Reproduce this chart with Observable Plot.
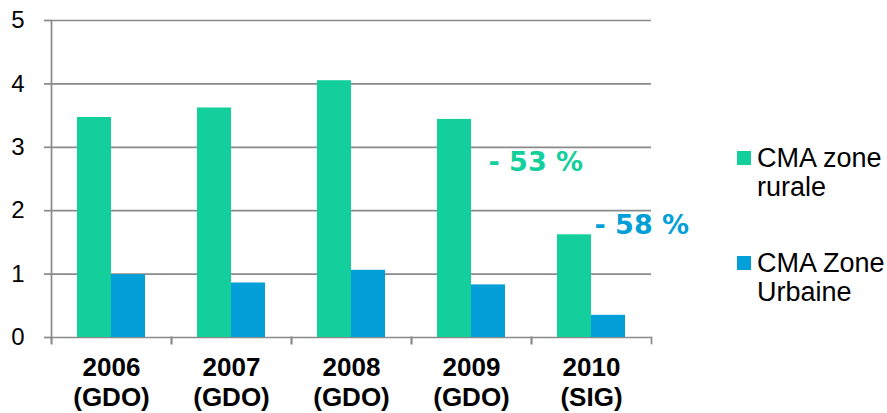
<!DOCTYPE html>
<html>
<head>
<meta charset="utf-8">
<script src="https://cdn.jsdelivr.net/npm/d3@7"></script>
<script src="https://cdn.jsdelivr.net/npm/@observablehq/plot@0.6"></script>
<style>
  html, body { margin: 0; padding: 0; background: #fff; }
  #wrap { position: relative; width: 887px; height: 413px; }
  .legend { position: absolute; left: 737px; font-family: "Liberation Sans", Arial, sans-serif; font-size: 27px; line-height: 29px; color: #000; }
  .legend .item { position: absolute; left: 0; white-space: nowrap; }
  .legend .sw { position: absolute; left: 0; top: 7px; width: 14px; height: 14px; }
  .legend .lbl { position: absolute; left: 20px; top: 0; }
</style>
</head>
<body>
<div id="wrap"></div>
<script>
const years = ["2006\n(GDO)", "2007\n(GDO)", "2008\n(GDO)", "2009\n(GDO)", "2010\n(SIG)"];
const series = ["CMA zone rurale", "CMA Zone Urbaine"];
const seriesLegend = [["CMA zone", "rurale"], ["CMA Zone", "Urbaine"]];
const rurale = [3.47, 3.62, 4.05, 3.44, 1.62];
const urbaine = [0.99, 0.86, 1.06, 0.83, 0.35];
const yTicks = [0, 1, 2, 3, 4, 5];
const annotRural = [{year: "2009\n(GDO)", series: "CMA Zone Urbaine", label: "- 53 %", y: 2.63}];
const annotUrban = [{year: "2010\n(SIG)", series: "CMA Zone Urbaine", label: "- 58 %", y: 1.64}];

const GREEN = "#12cf9b";
const BLUE = "#039fd8";
const GRAY = "#8a8a8a";

const data = years.flatMap((yr, i) => [
  {year: yr, series: series[0], value: rurale[i]},
  {year: yr, series: series[1], value: urbaine[i]}
]);

const annotStyle = {
  fx: "year", x: "series", y: "y", text: "label",
  textAnchor: "start", lineAnchor: "bottom",
  fontSize: 27, fontWeight: "bold", fontFamily: "'DejaVu Sans', sans-serif"
};

const chart = Plot.plot({
  width: 887,
  height: 413,
  marginLeft: 49,
  marginRight: 235,
  marginTop: 20,
  marginBottom: 76,
  style: {fontFamily: "'Liberation Sans', Arial, sans-serif", background: "white", color: "black"},
  fx: {domain: years, padding: 0, label: null, axis: null},
  x: {domain: series, paddingInner: 0, paddingOuter: 0.75, axis: null},
  y: {domain: [0, 5], axis: null},
  color: {domain: series, range: [GREEN, BLUE]},
  marks: [
    Plot.ruleY(yTicks, {stroke: GRAY, strokeWidth: 1.7}),
    Plot.frame({anchor: "left", facet: "super", stroke: GRAY, strokeWidth: 1.7, insetBottom: -6}),
    Plot.frame({anchor: "left", stroke: GRAY, strokeWidth: 1.7, insetTop: 317, insetBottom: -6}),
    Plot.frame({anchor: "right", stroke: GRAY, strokeWidth: 1.7, insetTop: 317, insetBottom: -6}),
    Plot.barY(data, {fx: "year", x: "series", y: "value", fill: "series"}),
    Plot.axisY(yTicks, {anchor: "left", tickSize: 7, tickPadding: 20, fontSize: 24, stroke: GRAY, strokeWidth: 1.7, fill: "black", label: null, tickFormat: d => String(d)}),
    Plot.axisFx({anchor: "bottom", tickSize: 0, tickPadding: 17, fontSize: 26, fontWeight: "bold", lineHeight: 1.15, fill: "black", label: null}),
    Plot.text(annotRural, {...annotStyle, fill: GREEN, dx: 0}),
    Plot.text(annotUrban, {...annotStyle, fill: BLUE, dx: -14})
  ]
});

const wrap = document.getElementById("wrap");
wrap.appendChild(chart);

const legend = document.createElement("div");
legend.className = "legend";
legend.style.top = "0px";
const tops = [144, 249];
const colors = [GREEN, BLUE];
seriesLegend.forEach((lines, i) => {
  const item = document.createElement("div");
  item.className = "item";
  item.style.top = tops[i] + "px";
  const sw = document.createElement("div");
  sw.className = "sw";
  sw.style.background = colors[i];
  const lbl = document.createElement("div");
  lbl.className = "lbl";
  lbl.innerHTML = lines.join("<br>");
  item.appendChild(sw);
  item.appendChild(lbl);
  legend.appendChild(item);
});
wrap.appendChild(legend);
</script>
</body>
</html>
